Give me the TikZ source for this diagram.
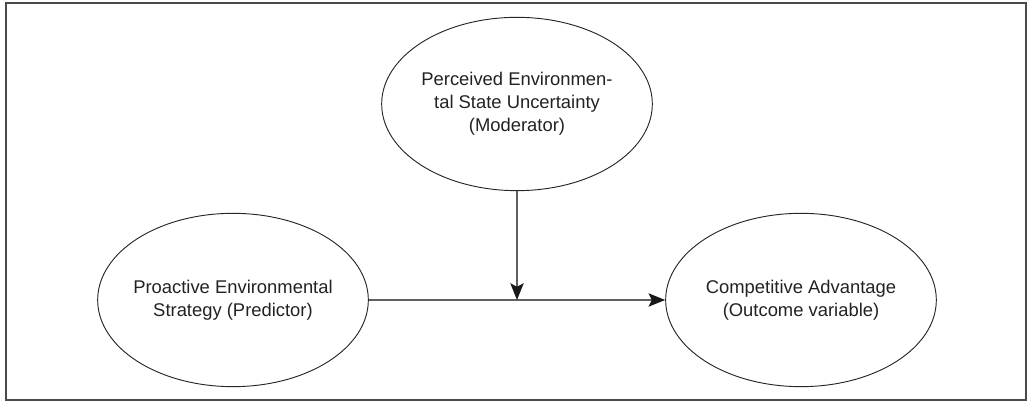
\documentclass[tikz,border=0pt]{standalone}
\usepackage{fontspec}
\setmainfont{Liberation Sans}
\usetikzlibrary{shapes.geometric,arrows.meta,positioning}

\definecolor{framegray}{HTML}{4A4A4A}
\definecolor{linegray}{HTML}{606060}
\definecolor{textgray}{HTML}{222222}

\tikzset{
  oval/.style={draw=black!85, ellipse, line width=0.7pt, minimum width=203pt, minimum height=130pt, inner sep=0pt},
  ovaltext/.style={align=center, text=textgray, font=\fontsize{13.8}{17.2}\selectfont},
  link/.style={draw=linegray, line width=1pt, -{Stealth[length=12.5pt,width=10pt,inset=2.5pt,color=black!90]}},
}

\begin{document}
\begin{tikzpicture}[x=0.75pt, y=-0.75pt]
\useasboundingbox (0,0) rectangle (1029,402);
% frame
\draw[framegray, line width=2pt] (6,3) rectangle (1026,400);

% moderator
\node[oval] (moder) at (517,104) {};
\node[ovaltext] (modertxt) at (moder.center) {Perceived Environmen-\\tal State Uncertainty\\(Moderator)};

% predictor
\node[oval] (pred) at (233,300) {};
\node[ovaltext] (predtxt) at (pred.center) {Proactive Environmental\\Strategy (Predictor)};

% outcome
\node[oval] (outc) at (801,300) {};
\node[ovaltext] (outctxt) at (outc.center) {Competitive Advantage\\(Outcome variable)};

% arrows
\coordinate (meet) at (moder.south |- pred.east);
\draw[link] (pred.east) -- (outc.west);
\draw[link] (moder.south) -- (meet);
\end{tikzpicture}
\end{document}
